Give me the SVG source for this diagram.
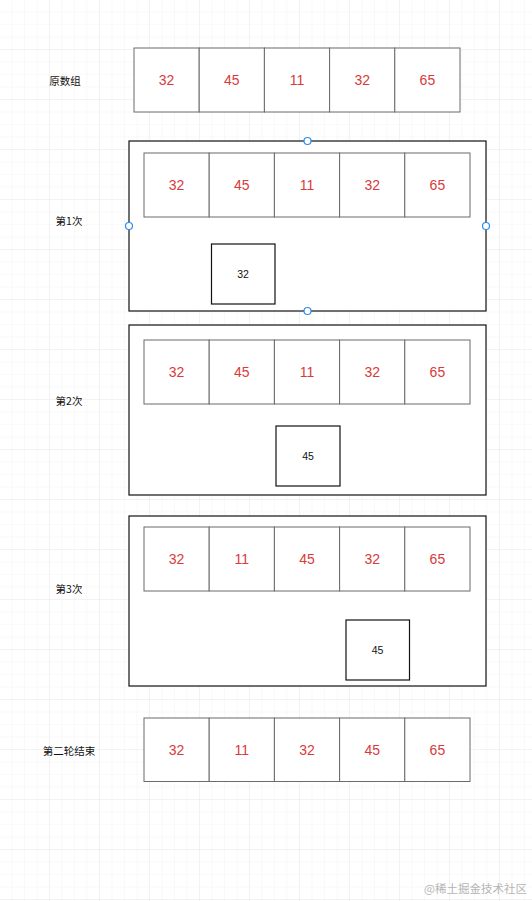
<svg xmlns="http://www.w3.org/2000/svg" width="532" height="901" viewBox="0 0 532 901">
<defs>
<pattern id="minor" width="12.5" height="12.5" patternUnits="userSpaceOnUse">
<path d="M12.5 0V12.5M0 12.5H12.5" fill="none" stroke="#f4f4f4" stroke-width="1"/>
</pattern>
<pattern id="major" width="50" height="50" patternUnits="userSpaceOnUse">
<rect width="50" height="50" fill="url(#minor)"/>
<path d="M50 0V50M0 50H50" fill="none" stroke="#ececec" stroke-width="1"/>
</pattern>
</defs>
<style>
.cell{fill:#fff;stroke:#6b6b6b;stroke-width:1}
.num{font-family:"Liberation Sans","Noto Sans CJK SC",sans-serif;font-size:14px;fill:#d93a3a;text-anchor:middle;dominant-baseline:central}
.lbl{font-family:"Noto Sans CJK SC","Liberation Sans",sans-serif;font-size:10.5px;fill:#111;text-anchor:middle;dominant-baseline:central}
.frame{fill:#fff;stroke:#111;stroke-width:1.2}
.box{fill:#fff;stroke:#111;stroke-width:1.2}
.bnum{font-family:"Liberation Sans",sans-serif;font-size:10.5px;fill:#111;text-anchor:middle;dominant-baseline:central}
.handle{fill:#fff;stroke:#2a8cf0;stroke-width:1.2}
.wm{font-family:"Noto Sans CJK SC",sans-serif;font-size:11.5px;fill:#b5b5b5;text-anchor:end}
</style>
<rect width="532" height="901" fill="#fff"/>
<rect width="532" height="901" fill="url(#major)"/>

<g id="row0">
<text class="lbl" x="65" y="80">原数组</text>
<rect class="cell" x="134" y="48" width="65.2" height="64"/>
<rect class="cell" x="199.2" y="48" width="65.2" height="64"/>
<rect class="cell" x="264.4" y="48" width="65.2" height="64"/>
<rect class="cell" x="329.6" y="48" width="65.2" height="64"/>
<rect class="cell" x="394.8" y="48" width="65.2" height="64"/>
<text class="num" x="166.6" y="80">32</text>
<text class="num" x="231.8" y="80">45</text>
<text class="num" x="297" y="80">11</text>
<text class="num" x="362.2" y="80">32</text>
<text class="num" x="427.4" y="80">65</text>
</g>

<g id="step1">
<text class="lbl" x="69" y="220">第1次</text>
<rect class="frame" x="129" y="141" width="357" height="170"/>
<rect class="cell" x="144" y="153" width="65.2" height="64"/>
<rect class="cell" x="209.2" y="153" width="65.2" height="64"/>
<rect class="cell" x="274.4" y="153" width="65.2" height="64"/>
<rect class="cell" x="339.6" y="153" width="65.2" height="64"/>
<rect class="cell" x="404.8" y="153" width="65.2" height="64"/>
<text class="num" x="176.6" y="185">32</text>
<text class="num" x="241.8" y="185">45</text>
<text class="num" x="307" y="185">11</text>
<text class="num" x="372.2" y="185">32</text>
<text class="num" x="437.4" y="185">65</text>
<rect class="box" x="211.5" y="244" width="63.5" height="60"/>
<text class="bnum" x="243" y="274">32</text>
<circle class="handle" cx="307.5" cy="141" r="3.5"/>
<circle class="handle" cx="129" cy="226" r="3.5"/>
<circle class="handle" cx="486" cy="226" r="3.5"/>
<circle class="handle" cx="307.5" cy="311" r="3.5"/>
</g>

<g id="step2">
<text class="lbl" x="69" y="400">第2次</text>
<rect class="frame" x="129" y="325" width="357" height="170"/>
<rect class="cell" x="144" y="340" width="65.2" height="64"/>
<rect class="cell" x="209.2" y="340" width="65.2" height="64"/>
<rect class="cell" x="274.4" y="340" width="65.2" height="64"/>
<rect class="cell" x="339.6" y="340" width="65.2" height="64"/>
<rect class="cell" x="404.8" y="340" width="65.2" height="64"/>
<text class="num" x="176.6" y="372">32</text>
<text class="num" x="241.8" y="372">45</text>
<text class="num" x="307" y="372">11</text>
<text class="num" x="372.2" y="372">32</text>
<text class="num" x="437.4" y="372">65</text>
<rect class="box" x="276" y="426" width="64" height="60"/>
<text class="bnum" x="308" y="456">45</text>
</g>

<g id="step3">
<text class="lbl" x="69" y="588">第3次</text>
<rect class="frame" x="129" y="516" width="357" height="170"/>
<rect class="cell" x="144" y="527" width="65.2" height="64"/>
<rect class="cell" x="209.2" y="527" width="65.2" height="64"/>
<rect class="cell" x="274.4" y="527" width="65.2" height="64"/>
<rect class="cell" x="339.6" y="527" width="65.2" height="64"/>
<rect class="cell" x="404.8" y="527" width="65.2" height="64"/>
<text class="num" x="176.6" y="559">32</text>
<text class="num" x="241.8" y="559">11</text>
<text class="num" x="307" y="559">45</text>
<text class="num" x="372.2" y="559">32</text>
<text class="num" x="437.4" y="559">65</text>
<rect class="box" x="346" y="620" width="63.5" height="60"/>
<text class="bnum" x="377.5" y="650">45</text>
</g>

<g id="final">
<text class="lbl" x="69" y="750">第二轮结束</text>
<rect class="cell" x="144" y="718" width="65.2" height="63.5"/>
<rect class="cell" x="209.2" y="718" width="65.2" height="63.5"/>
<rect class="cell" x="274.4" y="718" width="65.2" height="63.5"/>
<rect class="cell" x="339.6" y="718" width="65.2" height="63.5"/>
<rect class="cell" x="404.8" y="718" width="65.2" height="63.5"/>
<text class="num" x="176.6" y="750">32</text>
<text class="num" x="241.8" y="750">11</text>
<text class="num" x="307" y="750">32</text>
<text class="num" x="372.2" y="750">45</text>
<text class="num" x="437.4" y="750">65</text>
</g>

<g id="connectors"></g>

<text class="wm" x="527" y="893">@稀土掘金技术社区</text>
</svg>
